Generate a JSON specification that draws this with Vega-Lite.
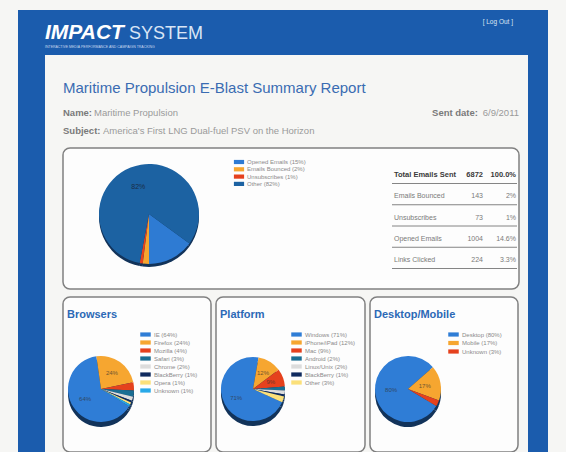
{
  "$schema": "https://vega.github.io/schema/vega-lite/v6.json",
  "background": "#f6f6f4",
  "padding": {"left": 18, "right": 18, "top": 10, "bottom": 0},
  "config": {"font": "Liberation Sans", "view": {"stroke": null}},
  "datasets": {
    "topPie": [
      {"label": "Opened Emails (15%)", "v": 15, "p": "15%", "i": 1},
      {"label": "Emails Bounced (2%)", "v": 2, "p": "2%", "i": 2},
      {"label": "Unsubscribes (1%)", "v": 1, "p": "1%", "i": 3},
      {"label": "Other (82%)", "v": 82, "p": "82%", "i": 4}
    ],
    "table": [
      {"label": "Total Emails Sent", "n": "6872", "pct": "100.0%", "h": 1},
      {"label": "Emails Bounced", "n": "143", "pct": "2%", "h": 0},
      {"label": "Unsubscribes", "n": "73", "pct": "1%", "h": 0},
      {"label": "Opened Emails", "n": "1004", "pct": "14.6%", "h": 0},
      {"label": "Links Clicked", "n": "224", "pct": "3.3%", "h": 0}
    ],
    "browsers": [
      {"label": "IE (64%)", "v": 64, "p": "64%", "i": 1},
      {"label": "Firefox (24%)", "v": 24, "p": "24%", "i": 2},
      {"label": "Mozilla (4%)", "v": 4, "p": "4%", "i": 3},
      {"label": "Safari (3%)", "v": 3, "p": "3%", "i": 4},
      {"label": "Chrome (2%)", "v": 2, "p": "2%", "i": 5},
      {"label": "BlackBerry (1%)", "v": 1, "p": "1%", "i": 6},
      {"label": "Opera (1%)", "v": 1, "p": "1%", "i": 7},
      {"label": "Unknown (1%)", "v": 1, "p": "1%", "i": 8}
    ],
    "platform": [
      {"label": "Windows (71%)", "v": 71, "p": "71%", "i": 1},
      {"label": "iPhone/iPad (12%)", "v": 12, "p": "12%", "i": 2},
      {"label": "Mac (9%)", "v": 9, "p": "9%", "i": 3},
      {"label": "Android (2%)", "v": 2, "p": "2%", "i": 4},
      {"label": "Linux/Unix (2%)", "v": 2, "p": "2%", "i": 5},
      {"label": "BlackBerry (1%)", "v": 1, "p": "1%", "i": 6},
      {"label": "Other (3%)", "v": 3, "p": "3%", "i": 7}
    ],
    "desktop": [
      {"label": "Desktop (80%)", "v": 80, "p": "80%", "i": 1},
      {"label": "Mobile (17%)", "v": 17, "p": "17%", "i": 2},
      {"label": "Unknown (3%)", "v": 3, "p": "3%", "i": 3}
    ]
  },
  "spacing": 0,
  "resolve": {"scale": {"color": "independent", "theta": "independent"}, "legend": {"color": "independent"}},
  "vconcat": [
    {
      "width": 530,
      "height": 45,
      "view": {"fill": "#1b5cad", "stroke": null},
      "layer": [
        {"data": {"values": [{"t": "IMPACT"}]}, "mark": {"type": "text", "x": 27, "y": 29, "align": "left", "baseline": "alphabetic", "fontStyle": "italic", "fontWeight": "bold", "fontSize": 21, "color": "#ffffff"}, "encoding": {"text": {"field": "t"}}},
        {"data": {"values": [{"t": "SYSTEM"}]}, "mark": {"type": "text", "x": 111, "y": 29, "align": "left", "baseline": "alphabetic", "fontWeight": "normal", "fontSize": 18, "color": "#d9e5f5"}, "encoding": {"text": {"field": "t"}}},
        {"data": {"values": [{"t": "INTERACTIVE MEDIA PERFORMANCE AND CAMPAIGN TRACKING"}]}, "mark": {"type": "text", "x": 27, "y": 38, "align": "left", "baseline": "alphabetic", "fontSize": 3.5, "color": "#c9d8ee"}, "encoding": {"text": {"field": "t"}}},
        {"data": {"values": [{"t": "[ Log Out ]"}]}, "mark": {"type": "text", "x": 495, "y": 12, "align": "right", "baseline": "middle", "fontSize": 6.5, "color": "#dbe5f3"}, "encoding": {"text": {"field": "t"}}}
      ]
    },
    {
      "spacing": 17,
      "resolve": {"scale": {"color": "independent", "theta": "independent"}, "legend": {"color": "independent"}},
      "hconcat": [
        {"width": 27, "height": 397, "data": {"values": []}, "mark": "rect", "encoding": {}, "view": {"fill": "#1b5cad", "stroke": null}},
        {
          "spacing": 8,
          "resolve": {"scale": {"color": "independent", "theta": "independent"}, "legend": {"color": "independent"}},
          "hconcat": [
            {
              "spacing": 6,
              "resolve": {"scale": {"color": "independent", "theta": "independent"}, "legend": {"color": "independent"}},
              "vconcat": [
                {
                  "width": 456,
                  "height": 86,
                  "layer": [
                    {"data": {"values": [{"t": "Maritime Propulsion E-Blast Summary Report"}]}, "mark": {"type": "text", "x": 0, "y": 38, "align": "left", "baseline": "alphabetic", "fontSize": 15, "color": "#3a6cb2"}, "encoding": {"text": {"field": "t"}}},
                    {"data": {"values": [{"t": "Name:"}]}, "mark": {"type": "text", "x": 0, "y": 61, "align": "left", "baseline": "alphabetic", "fontSize": 9.5, "fontWeight": "bold", "color": "#7a7a7a"}, "encoding": {"text": {"field": "t"}}},
                    {"data": {"values": [{"t": "Maritime Propulsion"}]}, "mark": {"type": "text", "x": 31, "y": 61, "align": "left", "baseline": "alphabetic", "fontSize": 9.5, "color": "#9a9a9a"}, "encoding": {"text": {"field": "t"}}},
                    {"data": {"values": [{"t": "Subject:"}]}, "mark": {"type": "text", "x": 0, "y": 79, "align": "left", "baseline": "alphabetic", "fontSize": 9.5, "fontWeight": "bold", "color": "#7a7a7a"}, "encoding": {"text": {"field": "t"}}},
                    {"data": {"values": [{"t": "America's First LNG Dual-fuel PSV on the Horizon"}]}, "mark": {"type": "text", "x": 40, "y": 79, "align": "left", "baseline": "alphabetic", "fontSize": 9.5, "color": "#9a9a9a"}, "encoding": {"text": {"field": "t"}}},
                    {"data": {"values": [{"t": "Sent date:"}]}, "mark": {"type": "text", "x": 415, "y": 61, "align": "right", "baseline": "alphabetic", "fontSize": 9.5, "fontWeight": "bold", "color": "#7a7a7a"}, "encoding": {"text": {"field": "t"}}},
                    {"data": {"values": [{"t": "6/9/2011"}]}, "mark": {"type": "text", "x": 456, "y": 61, "align": "right", "baseline": "alphabetic", "fontSize": 9.5, "color": "#9a9a9a"}, "encoding": {"text": {"field": "t"}}}
                  ]
                },
                {
                  "width": 456,
                  "height": 141,
                  "view": {"fill": "#fdfdfd", "stroke": "#808080", "strokeWidth": 1.5, "cornerRadius": 7},
                  "layer": [
                    {"data": {"name": "topPie"}, "mark": {"type": "arc", "x": 86, "y": 69, "outerRadius": 50, "color": "#12335a"}, "encoding": {"theta": {"field": "v", "type": "quantitative", "stack": true, "scale": {"range": [2.199, 8.482]}}, "order": {"field": "i", "type": "quantitative"}}},
                    {"data": {"name": "topPie"}, "mark": {"type": "arc", "x": 86, "y": 66, "outerRadius": 50}, "encoding": {"theta": {"field": "v", "type": "quantitative", "stack": true, "scale": {"range": [2.199, 8.482]}}, "order": {"field": "i", "type": "quantitative"}, "color": {"field": "label", "type": "nominal", "scale": {"domain": ["Opened Emails (15%)", "Emails Bounced (2%)", "Unsubscribes (1%)", "Other (82%)"], "range": ["#2e7bd3", "#f6a630", "#e5411d", "#1c62a2"]}, "legend": {"title": null, "orient": "none", "legendX": 173, "legendY": 11, "symbolType": "M-1.7,-0.7H1.7V0.7H-1.7Z", "symbolSize": 36, "symbolStrokeWidth": 0, "labelFontSize": 6, "labelColor": "#8a8a8a", "rowPadding": 1.3, "labelOffset": 5}}}},
                    {"data": {"name": "topPie"}, "mark": {"type": "text", "x": 86, "y": 66, "radius": 29, "fontSize": 7, "color": "#1a2e47"}, "encoding": {"theta": {"field": "v", "type": "quantitative", "stack": true, "scale": {"range": [2.199, 8.482]}}, "order": {"field": "i", "type": "quantitative"}, "text": {"condition": {"test": "datum.v > 50", "field": "p"}, "value": ""}}},
                    {"data": {"name": "table"}, "mark": {"type": "rule", "color": "#666666", "strokeWidth": 0.8, "yOffset": 8.5}, "encoding": {"y": {"field": "label", "type": "nominal", "scale": {"type": "point", "domain": ["Total Emails Sent", "Emails Bounced", "Unsubscribes", "Opened Emails", "Links Clicked"], "range": [27, 112], "padding": 0}, "axis": null}, "x": {"value": 329}, "x2": {"value": 454}}},
                    {"data": {"name": "table"}, "transform": [{"filter": "datum.h == 1"}], "mark": {"type": "text", "x": 331, "align": "left", "baseline": "middle", "fontSize": 7.5, "fontWeight": "bold", "color": "#3a3a3a"}, "encoding": {"y": {"field": "label", "type": "nominal", "axis": null}, "text": {"field": "label"}}},
                    {"data": {"name": "table"}, "transform": [{"filter": "datum.h == 1"}], "mark": {"type": "text", "x": 420, "align": "right", "baseline": "middle", "fontSize": 7.5, "fontWeight": "bold", "color": "#3a3a3a"}, "encoding": {"y": {"field": "label", "type": "nominal", "axis": null}, "text": {"field": "n"}}},
                    {"data": {"name": "table"}, "transform": [{"filter": "datum.h == 1"}], "mark": {"type": "text", "x": 453, "align": "right", "baseline": "middle", "fontSize": 7.5, "fontWeight": "bold", "color": "#3a3a3a"}, "encoding": {"y": {"field": "label", "type": "nominal", "axis": null}, "text": {"field": "pct"}}},
                    {"data": {"name": "table"}, "transform": [{"filter": "datum.h == 0"}], "mark": {"type": "text", "x": 331, "align": "left", "baseline": "middle", "fontSize": 7, "color": "#7a7a7a"}, "encoding": {"y": {"field": "label", "type": "nominal", "axis": null}, "text": {"field": "label"}}},
                    {"data": {"name": "table"}, "transform": [{"filter": "datum.h == 0"}], "mark": {"type": "text", "x": 420, "align": "right", "baseline": "middle", "fontSize": 7, "color": "#7a7a7a"}, "encoding": {"y": {"field": "label", "type": "nominal", "axis": null}, "text": {"field": "n"}}},
                    {"data": {"name": "table"}, "transform": [{"filter": "datum.h == 0"}], "mark": {"type": "text", "x": 453, "align": "right", "baseline": "middle", "fontSize": 7, "color": "#7a7a7a"}, "encoding": {"y": {"field": "label", "type": "nominal", "axis": null}, "text": {"field": "pct"}}}
                  ]
                },
                {
                  "spacing": 5,
                  "bounds": "flush",
                  "resolve": {"scale": {"color": "independent", "theta": "independent"}, "legend": {"color": "independent"}},
                  "hconcat": [
                    {
                      "width": 148,
                      "height": 155,
                      "view": {"fill": "#fdfdfd", "stroke": "#808080", "strokeWidth": 1.5, "cornerRadius": 7},
                      "layer": [
                        {"data": {"name": "browsers"}, "mark": {"type": "arc", "x": 38, "y": 97, "outerRadius": 33, "color": "#12335a"}, "encoding": {"theta": {"field": "v", "type": "quantitative", "stack": true, "scale": {"range": [2.122, 8.405]}}, "order": {"field": "i", "type": "quantitative"}}},
                        {"data": {"name": "browsers"}, "mark": {"type": "arc", "x": 38, "y": 92, "outerRadius": 33}, "encoding": {"theta": {"field": "v", "type": "quantitative", "stack": true, "scale": {"range": [2.122, 8.405]}}, "order": {"field": "i", "type": "quantitative"}, "color": {"field": "label", "type": "nominal", "scale": {"domain": ["IE (64%)", "Firefox (24%)", "Mozilla (4%)", "Safari (3%)", "Chrome (2%)", "BlackBerry (1%)", "Opera (1%)", "Unknown (1%)"], "range": ["#2f7dd6", "#f6a630", "#e5411d", "#1a6e93", "#dcdcdc", "#0f2a5e", "#fbe07a", "#28a9e8"]}, "legend": {"title": null, "orient": "none", "legendX": 79, "legendY": 34, "symbolType": "M-1.5,-0.6H1.5V0.6H-1.5Z", "symbolSize": 49, "symbolStrokeWidth": 0, "labelFontSize": 6, "labelColor": "#8a8a8a", "labelLimit": 56, "rowPadding": 1, "labelOffset": 5}}}},
                        {"data": {"name": "browsers"}, "mark": {"type": "text", "x": 38, "y": 92, "radius": 19, "fontSize": 6, "color": "#333333", "opacity": 0.7}, "encoding": {"theta": {"field": "v", "type": "quantitative", "stack": true, "scale": {"range": [2.122, 8.405]}}, "order": {"field": "i", "type": "quantitative"}, "text": {"condition": {"test": "datum.v >= 9", "field": "p"}, "value": ""}}},
                        {"data": {"values": [{"t": "Browsers"}]}, "mark": {"type": "text", "x": 4, "y": 21, "align": "left", "baseline": "alphabetic", "fontSize": 11, "fontWeight": "bold", "color": "#2c69b6"}, "encoding": {"text": {"field": "t"}}}
                      ]
                    },
                    {
                      "width": 149,
                      "height": 155,
                      "view": {"fill": "#fdfdfd", "stroke": "#808080", "strokeWidth": 1.5, "cornerRadius": 7},
                      "layer": [
                        {"data": {"name": "platform"}, "mark": {"type": "arc", "x": 37, "y": 97, "outerRadius": 32, "color": "#12335a"}, "encoding": {"theta": {"field": "v", "type": "quantitative", "stack": true, "scale": {"range": [1.997, 8.280]}}, "order": {"field": "i", "type": "quantitative"}}},
                        {"data": {"name": "platform"}, "mark": {"type": "arc", "x": 37, "y": 92, "outerRadius": 32}, "encoding": {"theta": {"field": "v", "type": "quantitative", "stack": true, "scale": {"range": [1.997, 8.280]}}, "order": {"field": "i", "type": "quantitative"}, "color": {"field": "label", "type": "nominal", "scale": {"domain": ["Windows (71%)", "iPhone/iPad (12%)", "Mac (9%)", "Android (2%)", "Linux/Unix (2%)", "BlackBerry (1%)", "Other (3%)"], "range": ["#2f7dd6", "#f6a630", "#e5411d", "#1a6e93", "#dcdcdc", "#0f2a5e", "#fbe07a"]}, "legend": {"title": null, "orient": "none", "legendX": 77, "legendY": 34, "symbolType": "M-1.5,-0.6H1.5V0.6H-1.5Z", "symbolSize": 49, "symbolStrokeWidth": 0, "labelFontSize": 6, "labelColor": "#8a8a8a", "labelLimit": 60, "rowPadding": 1, "labelOffset": 5}}}},
                        {"data": {"name": "platform"}, "mark": {"type": "text", "x": 37, "y": 92, "radius": 19, "fontSize": 6, "color": "#333333", "opacity": 0.7}, "encoding": {"theta": {"field": "v", "type": "quantitative", "stack": true, "scale": {"range": [1.997, 8.280]}}, "order": {"field": "i", "type": "quantitative"}, "text": {"condition": {"test": "datum.v >= 9", "field": "p"}, "value": ""}}},
                        {"data": {"values": [{"t": "Platform"}]}, "mark": {"type": "text", "x": 4, "y": 21, "align": "left", "baseline": "alphabetic", "fontSize": 11, "fontWeight": "bold", "color": "#2c69b6"}, "encoding": {"text": {"field": "t"}}}
                      ]
                    },
                    {
                      "width": 148,
                      "height": 155,
                      "view": {"fill": "#fdfdfd", "stroke": "#808080", "strokeWidth": 1.5, "cornerRadius": 7},
                      "layer": [
                        {"data": {"name": "desktop"}, "mark": {"type": "arc", "x": 38, "y": 97, "outerRadius": 33, "color": "#12335a"}, "encoding": {"theta": {"field": "v", "type": "quantitative", "stack": true, "scale": {"range": [2.112, 8.395]}}, "order": {"field": "i", "type": "quantitative"}}},
                        {"data": {"name": "desktop"}, "mark": {"type": "arc", "x": 38, "y": 92, "outerRadius": 33}, "encoding": {"theta": {"field": "v", "type": "quantitative", "stack": true, "scale": {"range": [2.112, 8.395]}}, "order": {"field": "i", "type": "quantitative"}, "color": {"field": "label", "type": "nominal", "scale": {"domain": ["Desktop (80%)", "Mobile (17%)", "Unknown (3%)"], "range": ["#2f7dd6", "#f6a630", "#e5411d"]}, "legend": {"title": null, "orient": "none", "legendX": 80, "legendY": 34, "symbolType": "M-1.5,-0.6H1.5V0.6H-1.5Z", "symbolSize": 49, "symbolStrokeWidth": 0, "labelFontSize": 6, "labelColor": "#8a8a8a", "labelLimit": 56, "rowPadding": 1.5, "labelOffset": 5}}}},
                        {"data": {"name": "desktop"}, "mark": {"type": "text", "x": 38, "y": 92, "radius": 17, "fontSize": 6, "color": "#333333", "opacity": 0.7}, "encoding": {"theta": {"field": "v", "type": "quantitative", "stack": true, "scale": {"range": [2.112, 8.395]}}, "order": {"field": "i", "type": "quantitative"}, "text": {"condition": {"test": "datum.v >= 9", "field": "p"}, "value": ""}}},
                        {"data": {"values": [{"t": "Desktop/Mobile"}]}, "mark": {"type": "text", "x": 4, "y": 21, "align": "left", "baseline": "alphabetic", "fontSize": 11, "fontWeight": "bold", "color": "#2c69b6"}, "encoding": {"text": {"field": "t"}}}
                      ]
                    }
                  ]
                }
              ]
            },
            {"width": 20, "height": 397, "data": {"values": []}, "mark": "rect", "encoding": {}, "view": {"fill": "#1b5cad", "stroke": null}}
          ]
        }
      ]
    }
  ]
}
